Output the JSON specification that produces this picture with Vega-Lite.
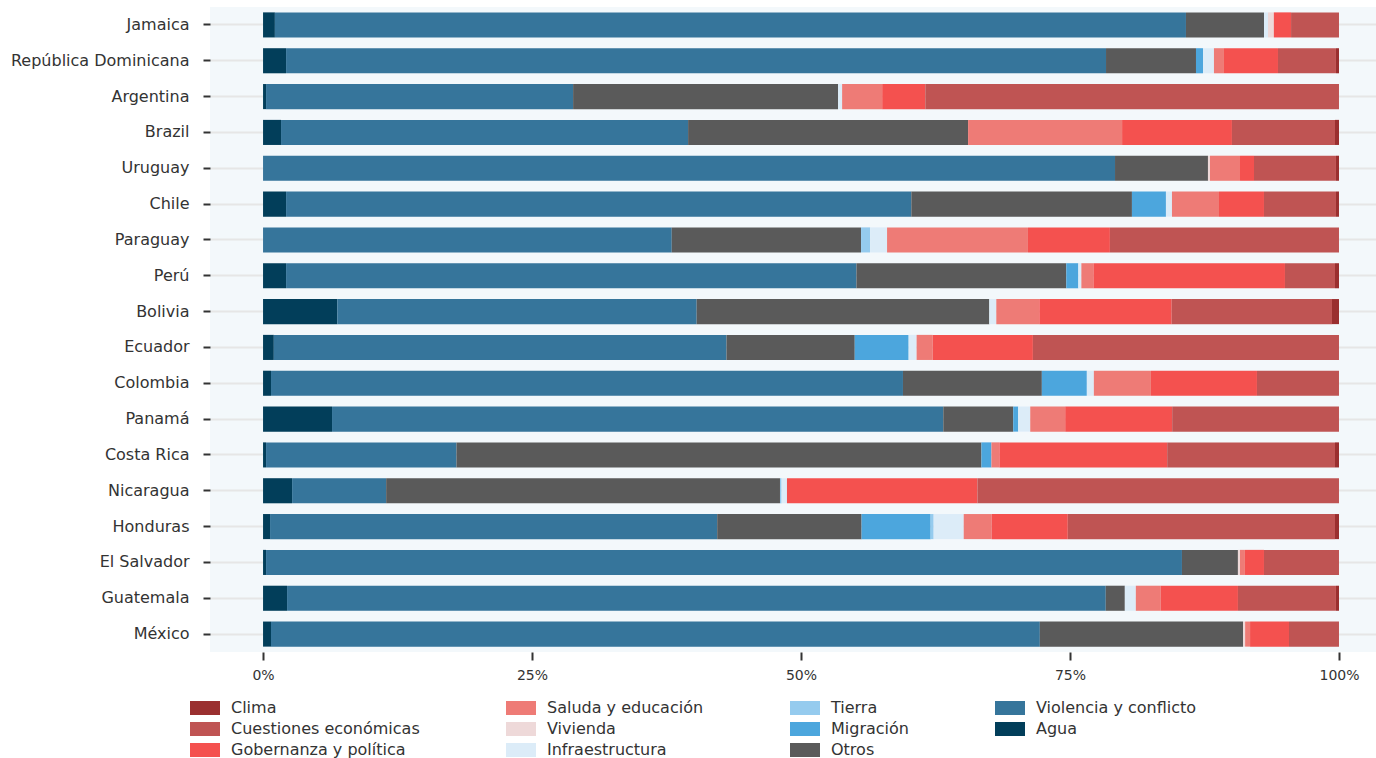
{
  "$schema": "https://vega.github.io/schema/vega-lite/v6.json",
  "width": 1166,
  "height": 645,
  "autosize": {"type": "none"},
  "padding": {"left": 210, "top": 7, "right": 0, "bottom": 106},
  "background": "white",
  "config": {
    "view": {"fill": "#f3f8fb", "stroke": null},
    "font": "DejaVu Sans",
    "axis": {"labelFont": "DejaVu Sans", "labelFontSize": 16, "labelColor": "#333333", "domain": false, "tickColor": "#333333", "tickWidth": 2, "title": null},
    "legend": {"labelFont": "DejaVu Sans", "labelFontSize": 16, "labelColor": "#333333", "labelLimit": 400}
  },
  "data": {"values": [
    {"country": "Jamaica", "cause": "Agua", "share": 1.1},
    {"country": "Jamaica", "cause": "Violencia y conflicto", "share": 84.6},
    {"country": "Jamaica", "cause": "Otros", "share": 7.25},
    {"country": "Jamaica", "cause": "Infraestructura", "share": 0.37},
    {"country": "Jamaica", "cause": "Vivienda", "share": 0.54},
    {"country": "Jamaica", "cause": "Gobernanza y política", "share": 1.6},
    {"country": "Jamaica", "cause": "Cuestiones económicas", "share": 4.45},

    {"country": "República Dominicana", "cause": "Agua", "share": 2.14},
    {"country": "República Dominicana", "cause": "Violencia y conflicto", "share": 76.2},
    {"country": "República Dominicana", "cause": "Otros", "share": 8.36},
    {"country": "República Dominicana", "cause": "Migración", "share": 0.65},
    {"country": "República Dominicana", "cause": "Infraestructura", "share": 1.02},
    {"country": "República Dominicana", "cause": "Saluda y educación", "share": 0.93},
    {"country": "República Dominicana", "cause": "Gobernanza y política", "share": 5.02},
    {"country": "República Dominicana", "cause": "Cuestiones económicas", "share": 5.39},
    {"country": "República Dominicana", "cause": "Clima", "share": 0.28},

    {"country": "Argentina", "cause": "Agua", "share": 0.28},
    {"country": "Argentina", "cause": "Violencia y conflicto", "share": 28.5},
    {"country": "Argentina", "cause": "Otros", "share": 24.6},
    {"country": "Argentina", "cause": "Infraestructura", "share": 0.37},
    {"country": "Argentina", "cause": "Saluda y educación", "share": 3.72},
    {"country": "Argentina", "cause": "Gobernanza y política", "share": 4.0},
    {"country": "Argentina", "cause": "Cuestiones económicas", "share": 38.4},

    {"country": "Brazil", "cause": "Agua", "share": 1.67},
    {"country": "Brazil", "cause": "Violencia y conflicto", "share": 37.8},
    {"country": "Brazil", "cause": "Otros", "share": 26.0},
    {"country": "Brazil", "cause": "Saluda y educación", "share": 14.3},
    {"country": "Brazil", "cause": "Gobernanza y política", "share": 10.2},
    {"country": "Brazil", "cause": "Cuestiones económicas", "share": 9.57},
    {"country": "Brazil", "cause": "Clima", "share": 0.37},

    {"country": "Uruguay", "cause": "Violencia y conflicto", "share": 79.2},
    {"country": "Uruguay", "cause": "Otros", "share": 8.64},
    {"country": "Uruguay", "cause": "Vivienda", "share": 0.19},
    {"country": "Uruguay", "cause": "Saluda y educación", "share": 2.79},
    {"country": "Uruguay", "cause": "Gobernanza y política", "share": 1.3},
    {"country": "Uruguay", "cause": "Cuestiones económicas", "share": 7.62},
    {"country": "Uruguay", "cause": "Clima", "share": 0.28},

    {"country": "Chile", "cause": "Agua", "share": 2.14},
    {"country": "Chile", "cause": "Violencia y conflicto", "share": 58.1},
    {"country": "Chile", "cause": "Otros", "share": 20.5},
    {"country": "Chile", "cause": "Migración", "share": 3.16},
    {"country": "Chile", "cause": "Infraestructura", "share": 0.56},
    {"country": "Chile", "cause": "Saluda y educación", "share": 4.37},
    {"country": "Chile", "cause": "Gobernanza y política", "share": 4.18},
    {"country": "Chile", "cause": "Cuestiones económicas", "share": 6.69},
    {"country": "Chile", "cause": "Clima", "share": 0.28},

    {"country": "Paraguay", "cause": "Violencia y conflicto", "share": 38.0},
    {"country": "Paraguay", "cause": "Otros", "share": 17.6},
    {"country": "Paraguay", "cause": "Tierra", "share": 0.84},
    {"country": "Paraguay", "cause": "Infraestructura", "share": 1.58},
    {"country": "Paraguay", "cause": "Saluda y educación", "share": 13.1},
    {"country": "Paraguay", "cause": "Gobernanza y política", "share": 7.62},
    {"country": "Paraguay", "cause": "Cuestiones económicas", "share": 21.3},

    {"country": "Perú", "cause": "Agua", "share": 2.14},
    {"country": "Perú", "cause": "Violencia y conflicto", "share": 53.0},
    {"country": "Perú", "cause": "Otros", "share": 19.5},
    {"country": "Perú", "cause": "Migración", "share": 1.12},
    {"country": "Perú", "cause": "Infraestructura", "share": 0.28},
    {"country": "Perú", "cause": "Saluda y educación", "share": 1.12},
    {"country": "Perú", "cause": "Gobernanza y política", "share": 17.8},
    {"country": "Perú", "cause": "Cuestiones económicas", "share": 4.65},
    {"country": "Perú", "cause": "Clima", "share": 0.37},

    {"country": "Bolivia", "cause": "Agua", "share": 6.9},
    {"country": "Bolivia", "cause": "Violencia y conflicto", "share": 33.4},
    {"country": "Bolivia", "cause": "Otros", "share": 27.2},
    {"country": "Bolivia", "cause": "Infraestructura", "share": 0.65},
    {"country": "Bolivia", "cause": "Saluda y educación", "share": 4.0},
    {"country": "Bolivia", "cause": "Gobernanza y política", "share": 12.3},
    {"country": "Bolivia", "cause": "Cuestiones económicas", "share": 14.9},
    {"country": "Bolivia", "cause": "Clima", "share": 0.65},

    {"country": "Ecuador", "cause": "Agua", "share": 1.0},
    {"country": "Ecuador", "cause": "Violencia y conflicto", "share": 42.0},
    {"country": "Ecuador", "cause": "Otros", "share": 11.9},
    {"country": "Ecuador", "cause": "Migración", "share": 5.0},
    {"country": "Ecuador", "cause": "Infraestructura", "share": 0.74},
    {"country": "Ecuador", "cause": "Saluda y educación", "share": 1.49},
    {"country": "Ecuador", "cause": "Gobernanza y política", "share": 9.3},
    {"country": "Ecuador", "cause": "Cuestiones económicas", "share": 28.4},

    {"country": "Colombia", "cause": "Agua", "share": 0.74},
    {"country": "Colombia", "cause": "Violencia y conflicto", "share": 58.7},
    {"country": "Colombia", "cause": "Otros", "share": 12.9},
    {"country": "Colombia", "cause": "Migración", "share": 4.18},
    {"country": "Colombia", "cause": "Infraestructura", "share": 0.65},
    {"country": "Colombia", "cause": "Saluda y educación", "share": 5.3},
    {"country": "Colombia", "cause": "Gobernanza y política", "share": 9.85},
    {"country": "Colombia", "cause": "Cuestiones económicas", "share": 7.62},

    {"country": "Panamá", "cause": "Agua", "share": 6.41},
    {"country": "Panamá", "cause": "Violencia y conflicto", "share": 56.8},
    {"country": "Panamá", "cause": "Otros", "share": 6.5},
    {"country": "Panamá", "cause": "Migración", "share": 0.46},
    {"country": "Panamá", "cause": "Infraestructura", "share": 1.12},
    {"country": "Panamá", "cause": "Saluda y educación", "share": 3.25},
    {"country": "Panamá", "cause": "Gobernanza y política", "share": 9.94},
    {"country": "Panamá", "cause": "Cuestiones económicas", "share": 15.5},

    {"country": "Costa Rica", "cause": "Agua", "share": 0.28},
    {"country": "Costa Rica", "cause": "Violencia y conflicto", "share": 17.7},
    {"country": "Costa Rica", "cause": "Otros", "share": 48.8},
    {"country": "Costa Rica", "cause": "Migración", "share": 0.93},
    {"country": "Costa Rica", "cause": "Saluda y educación", "share": 0.74},
    {"country": "Costa Rica", "cause": "Gobernanza y política", "share": 15.6},
    {"country": "Costa Rica", "cause": "Cuestiones económicas", "share": 15.6},
    {"country": "Costa Rica", "cause": "Clima", "share": 0.37},

    {"country": "Nicaragua", "cause": "Agua", "share": 2.7},
    {"country": "Nicaragua", "cause": "Violencia y conflicto", "share": 8.74},
    {"country": "Nicaragua", "cause": "Otros", "share": 36.6},
    {"country": "Nicaragua", "cause": "Tierra", "share": 0.15},
    {"country": "Nicaragua", "cause": "Infraestructura", "share": 0.5},
    {"country": "Nicaragua", "cause": "Gobernanza y política", "share": 17.7},
    {"country": "Nicaragua", "cause": "Cuestiones económicas", "share": 33.6},

    {"country": "Honduras", "cause": "Agua", "share": 0.65},
    {"country": "Honduras", "cause": "Violencia y conflicto", "share": 41.5},
    {"country": "Honduras", "cause": "Otros", "share": 13.4},
    {"country": "Honduras", "cause": "Migración", "share": 6.41},
    {"country": "Honduras", "cause": "Tierra", "share": 0.28},
    {"country": "Honduras", "cause": "Infraestructura", "share": 2.79},
    {"country": "Honduras", "cause": "Saluda y educación", "share": 2.6},
    {"country": "Honduras", "cause": "Gobernanza y política", "share": 7.06},
    {"country": "Honduras", "cause": "Cuestiones económicas", "share": 24.8},
    {"country": "Honduras", "cause": "Clima", "share": 0.37},

    {"country": "El Salvador", "cause": "Agua", "share": 0.28},
    {"country": "El Salvador", "cause": "Violencia y conflicto", "share": 85.1},
    {"country": "El Salvador", "cause": "Otros", "share": 5.2},
    {"country": "El Salvador", "cause": "Vivienda", "share": 0.19},
    {"country": "El Salvador", "cause": "Saluda y educación", "share": 0.46},
    {"country": "El Salvador", "cause": "Gobernanza y política", "share": 1.77},
    {"country": "El Salvador", "cause": "Cuestiones económicas", "share": 6.97},

    {"country": "Guatemala", "cause": "Agua", "share": 2.23},
    {"country": "Guatemala", "cause": "Violencia y conflicto", "share": 76.0},
    {"country": "Guatemala", "cause": "Otros", "share": 1.77},
    {"country": "Guatemala", "cause": "Infraestructura", "share": 1.02},
    {"country": "Guatemala", "cause": "Saluda y educación", "share": 2.32},
    {"country": "Guatemala", "cause": "Gobernanza y política", "share": 7.16},
    {"country": "Guatemala", "cause": "Cuestiones económicas", "share": 9.1},
    {"country": "Guatemala", "cause": "Clima", "share": 0.28},

    {"country": "México", "cause": "Agua", "share": 0.74},
    {"country": "México", "cause": "Violencia y conflicto", "share": 71.5},
    {"country": "México", "cause": "Otros", "share": 18.9},
    {"country": "México", "cause": "Vivienda", "share": 0.19},
    {"country": "México", "cause": "Saluda y educación", "share": 0.46},
    {"country": "México", "cause": "Gobernanza y política", "share": 3.62},
    {"country": "México", "cause": "Cuestiones económicas", "share": 4.65}
  ]},
  "transform": [
    {"lookup": "cause", "from": {"data": {"values": [
      {"cause": "Agua", "rank": 1},
      {"cause": "Violencia y conflicto", "rank": 2},
      {"cause": "Otros", "rank": 3},
      {"cause": "Migración", "rank": 4},
      {"cause": "Tierra", "rank": 5},
      {"cause": "Infraestructura", "rank": 6},
      {"cause": "Vivienda", "rank": 7},
      {"cause": "Saluda y educación", "rank": 8},
      {"cause": "Gobernanza y política", "rank": 9},
      {"cause": "Cuestiones económicas", "rank": 10},
      {"cause": "Clima", "rank": 11}
    ]}, "key": "cause", "fields": ["rank"]}}
  ],
  "mark": {"type": "bar", "strokeWidth": 0},
  "encoding": {
    "y": {
      "field": "country", "type": "nominal",
      "sort": ["Jamaica", "República Dominicana", "Argentina", "Brazil", "Uruguay", "Chile", "Paraguay", "Perú", "Bolivia", "Ecuador", "Colombia", "Panamá", "Costa Rica", "Nicaragua", "Honduras", "El Salvador", "Guatemala", "México"],
      "scale": {"paddingInner": 0.3, "paddingOuter": 0.15},
      "axis": {"grid": true, "gridColor": "#e6e6e6", "gridWidth": 2, "bandPosition": 0.5, "tickSize": 7, "labelPadding": 14, "tickBand": "center"}
    },
    "x": {
      "field": "share", "type": "quantitative", "stack": "normalize",
      "scale": {"domain": [-0.0493, 1.0344], "nice": false, "zero": false},
      "axis": {"values": [0, 0.25, 0.5, 0.75, 1], "format": ".0%", "grid": false, "tickSize": 8, "labelPadding": 8, "labelFontSize": 14}
    },
    "order": {"field": "rank", "type": "quantitative", "sort": "ascending"},
    "color": {
      "field": "cause", "type": "nominal",
      "scale": {
        "domain": ["Clima", "Cuestiones económicas", "Gobernanza y política", "Saluda y educación", "Vivienda", "Infraestructura", "Tierra", "Migración", "Otros", "Violencia y conflicto", "Agua"],
        "range": ["#9a2f2f", "#bf5453", "#f4514f", "#ee7b76", "#eed9d9", "#dcecf8", "#95cbee", "#4ca6dd", "#5a5a5a", "#36759b", "#023e5a"]
      },
      "legend": {
        "title": null, "orient": "none", "legendX": -15, "legendY": 691, "columns": 4,
        "symbolType": "M-1.5,-0.7H1.5V0.7H-1.5Z", "symbolSize": 400, "symbolStrokeWidth": 0,
        "labelOffset": 16, "rowPadding": 3, "columnPadding": 86, "padding": 0
      }
    }
  }
}
